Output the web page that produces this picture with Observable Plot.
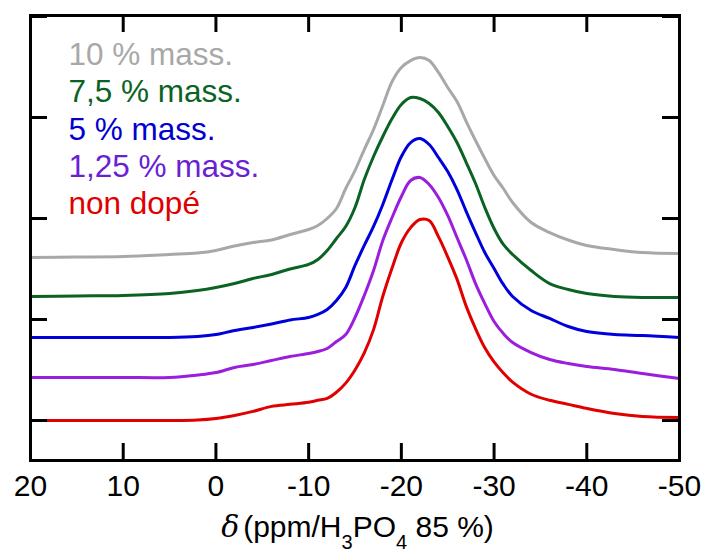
<!DOCTYPE html>
<html>
<head>
<meta charset="utf-8">
<script src="https://cdn.jsdelivr.net/npm/d3@7"></script>
<script src="https://cdn.jsdelivr.net/npm/@observablehq/plot@0.6"></script>
<style>
  body { margin: 0; background: #fff; }
  #chart { width: 705px; height: 552px; }
</style>
</head>
<body>
<div id="chart"></div>
<script>
// ---- data ----
const ppm = [20, 15, 10, 5, 2, 0, -2, -4, -6, -8, -10, -11, -12, -13, -14, -15, -16, -17, -18, -19,
             -20, -21, -22, -23, -24, -25, -26, -27, -28, -29, -30, -31, -32, -34, -36, -38, -40, -43, -46, -50];

const mass10 = [1.614, 1.619, 1.624, 1.644, 1.658, 1.683, 1.728, 1.762, 1.787, 1.842, 1.891, 1.931, 2.0, 2.099, 2.297, 2.475, 2.683, 2.881, 3.119, 3.356,
                3.495, 3.564, 3.594, 3.564, 3.446, 3.297, 3.158, 2.96, 2.772, 2.594, 2.426, 2.297, 2.158, 1.96, 1.861, 1.787, 1.733, 1.693, 1.663, 1.653];
const mass75 = [1.228, 1.233, 1.238, 1.257, 1.287, 1.317, 1.356, 1.406, 1.446, 1.5, 1.545, 1.594, 1.683, 1.802, 1.921, 2.109, 2.386, 2.614, 2.812, 2.99,
                3.129, 3.198, 3.188, 3.139, 3.05, 2.911, 2.752, 2.554, 2.347, 2.109, 1.901, 1.743, 1.644, 1.485, 1.356, 1.297, 1.257, 1.228, 1.218, 1.218];
const mass5 = [0.822, 0.822, 0.822, 0.822, 0.832, 0.851, 0.891, 0.921, 0.955, 0.995, 1.02, 1.05, 1.099, 1.188, 1.317, 1.535, 1.733, 1.921, 2.139, 2.386,
               2.614, 2.752, 2.792, 2.733, 2.604, 2.465, 2.287, 2.069, 1.861, 1.663, 1.505, 1.347, 1.228, 1.089, 1.01, 0.931, 0.881, 0.851, 0.842, 0.822];
const mass125 = [0.426, 0.426, 0.426, 0.426, 0.45, 0.475, 0.525, 0.554, 0.594, 0.634, 0.663, 0.683, 0.713, 0.782, 0.852, 1.02, 1.238, 1.485, 1.782, 2.01,
                 2.218, 2.376, 2.406, 2.337, 2.208, 2.03, 1.812, 1.594, 1.356, 1.158, 0.98, 0.861, 0.772, 0.673, 0.604, 0.564, 0.535, 0.505, 0.465, 0.416];
const nonDope = [0, 0, 0, 0, 0.005, 0.02, 0.05, 0.09, 0.14, 0.16, 0.18, 0.20, 0.22, 0.28, 0.37, 0.50, 0.67, 0.90, 1.23, 1.51,
                 1.76, 1.91, 1.99, 1.98, 1.82, 1.62, 1.40, 1.13, 0.91, 0.72, 0.58, 0.47, 0.38, 0.26, 0.20, 0.16, 0.12, 0.07, 0.04, 0.03];

const seriesNames = ["10 % mass.", "7,5 % mass.", "5 % mass.", "1,25 % mass.", "non dopé"];
const seriesValues = [mass10, mass75, mass5, mass125, nonDope];
const lineColors = ["#a8a8a8", "#0b6323", "#0000dc", "#9a1edc", "#e00000"];
const labelColors = ["#a8a8a8", "#0b6323", "#0000d0", "#6a1fd4", "#e00000"];

const xTicks = [20, 10, 0, -10, -20, -30, -40, -50];
const yTicks = [0, 1, 2, 3, 4];

// ---- layout ----
const W = 705, H = 552, mL = 30, mR = 26, mT = 15, mB = 92;
const xDomain = [20, -50];
const yDomain = [-0.396, 4.01];
const pxPerX = (W - mL - mR) / Math.abs(xDomain[1] - xDomain[0]);
const pxPerY = (H - mT - mB) / (yDomain[1] - yDomain[0]);
const tickLen = 17;
const tX = tickLen / pxPerX, tY = tickLen / pxPerY;
const font = "'Liberation Sans', Arial, Helvetica, sans-serif";

const lines = seriesNames.map((name, i) =>
  Plot.line(ppm.map((p, j) => ({ppm: p, value: seriesValues[i][j]})),
    {x: "ppm", y: "value", stroke: lineColors[i], strokeWidth: 3, curve: "catmull-rom"}));

const labels = seriesNames.map((name, i) =>
  Plot.text([name], {x: 15.9, y: 3.624 - i * 0.371, text: d => d, fill: labelColors[i],
    textAnchor: "start", fontSize: 31.5}));

const plot = Plot.plot({
  width: W, height: H,
  marginLeft: mL, marginRight: mR, marginTop: mT, marginBottom: mB,
  style: {fontFamily: font, fontSize: "30px", background: "white", color: "black"},
  x: {domain: xDomain, ticks: xTicks, tickSize: 0, tickPadding: 14, tickFormat: d => String(d), label: null},
  y: {domain: yDomain, axis: null},
  marks: [
    ...lines,
    ...labels,
    Plot.ruleX(xTicks, {x: d => d, y1: yDomain[0], y2: yDomain[0] + tY, strokeWidth: 3, stroke: "black"}),
    Plot.ruleX(xTicks, {x: d => d, y1: yDomain[1], y2: yDomain[1] - tY, strokeWidth: 3, stroke: "black"}),
    Plot.ruleY(yTicks, {y: d => d, x1: xDomain[0], x2: xDomain[0] - tX, strokeWidth: 3, stroke: "black"}),
    Plot.ruleY(yTicks, {y: d => d, x1: xDomain[1], x2: xDomain[1] + tX, strokeWidth: 3, stroke: "black"}),
    Plot.frame({strokeWidth: 3, stroke: "black"})
  ]
});

// axis title with subscripts
const svg = d3.select(plot);
const title = svg.append("text")
  .attr("x", mL + (W - mL - mR) / 2 + 3)
  .attr("y", H - 15)
  .attr("text-anchor", "middle")
  .attr("font-family", font)
  .attr("font-size", 30)
  .attr("fill", "black");
title.append("tspan").attr("font-style", "italic").attr("font-family", "'DejaVu Serif', serif").text("δ");
title.append("tspan").attr("dx", 4).text("(ppm/H");
title.append("tspan").attr("dy", 12).attr("font-size", 20).text("3");
title.append("tspan").attr("dy", -12).text("PO");
title.append("tspan").attr("dy", 12).attr("font-size", 20).text("4");
title.append("tspan").attr("dy", -12).text(" 85 %)");

document.getElementById("chart").appendChild(plot);
</script>
</body>
</html>
